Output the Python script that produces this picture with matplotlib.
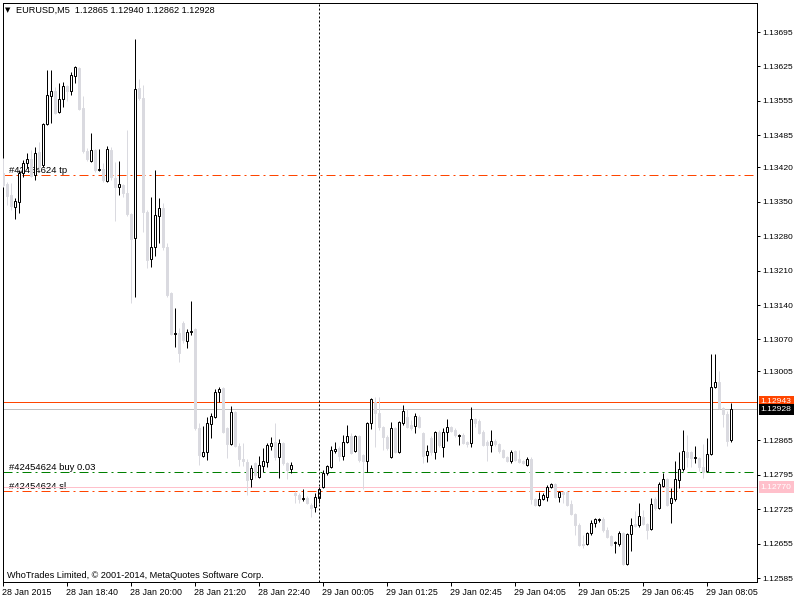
import matplotlib
matplotlib.use("Agg")
import matplotlib.pyplot as plt
import matplotlib.transforms as mtransforms

plt.rcParams['font.family'] = ['Liberation Sans', 'DejaVu Sans']
plt.rcParams['lines.scale_dashes'] = False

# EURUSD M5 candles
opens = [1.13408, 1.13386, 1.13364, 1.13339, 1.13349, 1.13408, 1.13429, 1.13437, 1.13404, 1.13451,
         1.13425, 1.13508, 1.13565, 1.13575, 1.13532, 1.13559, 1.13585, 1.13575, 1.13605, 1.13622,
         1.13540, 1.13453, 1.13433, 1.13455, 1.13414, 1.13416, 1.13392, 1.13455, 1.13398, 1.13380,
         1.13384, 1.13368, 1.13325, 1.13276, 1.13581, 1.13561, 1.13329, 1.13233, 1.13258, 1.13321,
         1.13337, 1.13258, 1.13164, 1.13081, 1.13083, 1.13103, 1.13067, 1.13085, 1.13091, 1.12890,
         1.12833, 1.12841, 1.12898, 1.12912, 1.12963, 1.12971, 1.12890, 1.12857, 1.12922, 1.12853,
         1.12827, 1.12821, 1.12786, 1.12819, 1.12790, 1.12813, 1.12821, 1.12853, 1.12861, 1.12831,
         1.12859, 1.12819, 1.12807, 1.12758, 1.12754, 1.12746, 1.12748, 1.12733, 1.12729, 1.12748,
         1.12770, 1.12798, 1.12811, 1.12843, 1.12849, 1.12833, 1.12861, 1.12874, 1.12843, 1.12874,
         1.12835, 1.12823, 1.12900, 1.12943, 1.12920, 1.12892, 1.12872, 1.12831, 1.12890, 1.12841,
         1.12900, 1.12912, 1.12896, 1.12894, 1.12912, 1.12880, 1.12835, 1.12870, 1.12841, 1.12882,
         1.12851, 1.12882, 1.12892, 1.12886, 1.12874, 1.12876, 1.12861, 1.12859, 1.12908, 1.12904,
         1.12882, 1.12861, 1.12855, 1.12863, 1.12857, 1.12845, 1.12831, 1.12823, 1.12843, 1.12827,
         1.12823, 1.12815, 1.12827, 1.12746, 1.12733, 1.12746, 1.12750, 1.12770, 1.12776, 1.12750,
         1.12760, 1.12760, 1.12735, 1.12715, 1.12693, 1.12654, 1.12654, 1.12676, 1.12697, 1.12703,
         1.12705, 1.12683, 1.12670, 1.12656, 1.12654, 1.12676, 1.12613, 1.12674, 1.12695, 1.12693,
         1.12709, 1.12695, 1.12685, 1.12746, 1.12727, 1.12772, 1.12786, 1.12737, 1.12746, 1.12784,
         1.12807, 1.12841, 1.12841, 1.12829, 1.12829, 1.12811, 1.12802, 1.12837, 1.12973, 1.12983,
         1.12931, 1.12918, 1.12865]
highs = [1.13439, 1.13390, 1.13388, 1.13357, 1.13414, 1.13435, 1.13449, 1.13455, 1.13461, 1.13471,
         1.13510, 1.13618, 1.13618, 1.13583, 1.13591, 1.13593, 1.13587, 1.13614, 1.13626, 1.13624,
         1.13565, 1.13459, 1.13490, 1.13457, 1.13457, 1.13429, 1.13463, 1.13461, 1.13431, 1.13433,
         1.13386, 1.13496, 1.13327, 1.13681, 1.13599, 1.13587, 1.13333, 1.13360, 1.13414, 1.13357,
         1.13347, 1.13266, 1.13166, 1.13134, 1.13093, 1.13107, 1.13091, 1.13148, 1.13093, 1.12900,
         1.12894, 1.12912, 1.12920, 1.12969, 1.12973, 1.12973, 1.12892, 1.12935, 1.12924, 1.12859,
         1.12859, 1.12827, 1.12815, 1.12821, 1.12833, 1.12849, 1.12859, 1.12872, 1.12900, 1.12868,
         1.12861, 1.12821, 1.12821, 1.12762, 1.12758, 1.12766, 1.12752, 1.12737, 1.12758, 1.12770,
         1.12805, 1.12815, 1.12853, 1.12861, 1.12853, 1.12876, 1.12896, 1.12880, 1.12876, 1.12876,
         1.12837, 1.12902, 1.12951, 1.12953, 1.12953, 1.12894, 1.12876, 1.12902, 1.12892, 1.12904,
         1.12937, 1.12928, 1.12906, 1.12920, 1.12916, 1.12882, 1.12855, 1.12874, 1.12884, 1.12886,
         1.12890, 1.12908, 1.12894, 1.12890, 1.12878, 1.12880, 1.12863, 1.12933, 1.12910, 1.12908,
         1.12886, 1.12865, 1.12886, 1.12868, 1.12859, 1.12847, 1.12833, 1.12845, 1.12845, 1.12845,
         1.12825, 1.12831, 1.12831, 1.12748, 1.12760, 1.12758, 1.12774, 1.12778, 1.12778, 1.12762,
         1.12762, 1.12762, 1.12744, 1.12717, 1.12697, 1.12672, 1.12678, 1.12703, 1.12707, 1.12707,
         1.12709, 1.12689, 1.12672, 1.12660, 1.12680, 1.12678, 1.12676, 1.12707, 1.12721, 1.12737,
         1.12723, 1.12697, 1.12748, 1.12750, 1.12780, 1.12798, 1.12788, 1.12768, 1.12823, 1.12841,
         1.12886, 1.12876, 1.12843, 1.12853, 1.12831, 1.12857, 1.12870, 1.13040, 1.13040, 1.13006,
         1.12933, 1.12924, 1.12940]
lows = [1.13380, 1.13343, 1.13333, 1.13315, 1.13327, 1.13400, 1.13418, 1.13400, 1.13394, 1.13414,
        1.13420, 1.13506, 1.13510, 1.13528, 1.13530, 1.13542, 1.13555, 1.13567, 1.13591, 1.13536,
        1.13449, 1.13433, 1.13431, 1.13410, 1.13412, 1.13390, 1.13390, 1.13394, 1.13311, 1.13364,
        1.13360, 1.13321, 1.13144, 1.13156, 1.13557, 1.13288, 1.13215, 1.13217, 1.13240, 1.13266,
        1.13252, 1.13156, 1.13079, 1.13055, 1.13024, 1.13063, 1.13053, 1.13079, 1.12886, 1.12815,
        1.12831, 1.12825, 1.12870, 1.12910, 1.12943, 1.12880, 1.12829, 1.12855, 1.12851, 1.12813,
        1.12813, 1.12754, 1.12770, 1.12788, 1.12788, 1.12800, 1.12811, 1.12845, 1.12825, 1.12788,
        1.12815, 1.12786, 1.12798, 1.12737, 1.12737, 1.12741, 1.12735, 1.12709, 1.12719, 1.12737,
        1.12768, 1.12794, 1.12809, 1.12839, 1.12823, 1.12825, 1.12859, 1.12837, 1.12841, 1.12821,
        1.12766, 1.12800, 1.12888, 1.12851, 1.12886, 1.12845, 1.12845, 1.12829, 1.12839, 1.12839,
        1.12896, 1.12890, 1.12886, 1.12880, 1.12890, 1.12819, 1.12821, 1.12835, 1.12827, 1.12851,
        1.12831, 1.12863, 1.12882, 1.12872, 1.12855, 1.12857, 1.12851, 1.12851, 1.12892, 1.12878,
        1.12853, 1.12823, 1.12841, 1.12853, 1.12839, 1.12829, 1.12821, 1.12819, 1.12823, 1.12819,
        1.12817, 1.12813, 1.12735, 1.12731, 1.12731, 1.12744, 1.12741, 1.12768, 1.12748, 1.12739,
        1.12737, 1.12731, 1.12713, 1.12672, 1.12650, 1.12646, 1.12652, 1.12672, 1.12689, 1.12699,
        1.12678, 1.12666, 1.12650, 1.12636, 1.12650, 1.12611, 1.12611, 1.12640, 1.12689, 1.12689,
        1.12693, 1.12664, 1.12683, 1.12723, 1.12725, 1.12770, 1.12731, 1.12697, 1.12741, 1.12768,
        1.12802, 1.12811, 1.12811, 1.12819, 1.12802, 1.12788, 1.12800, 1.12835, 1.12971, 1.12929,
        1.12892, 1.12853, 1.12862]
closes = [1.13384, 1.13362, 1.13341, 1.13351, 1.13408, 1.13429, 1.13437, 1.13402, 1.13449, 1.13420,
          1.13508, 1.13567, 1.13575, 1.13530, 1.13559, 1.13585, 1.13575, 1.13608, 1.13624, 1.13538,
          1.13453, 1.13437, 1.13455, 1.13414, 1.13416, 1.13394, 1.13457, 1.13400, 1.13380, 1.13386,
          1.13368, 1.13325, 1.13274, 1.13579, 1.13561, 1.13329, 1.13231, 1.13258, 1.13323, 1.13337,
          1.13258, 1.13160, 1.13081, 1.13083, 1.13042, 1.13069, 1.13085, 1.13087, 1.12890, 1.12835,
          1.12841, 1.12900, 1.12914, 1.12963, 1.12969, 1.12882, 1.12857, 1.12922, 1.12853, 1.12827,
          1.12823, 1.12784, 1.12809, 1.12794, 1.12815, 1.12823, 1.12855, 1.12859, 1.12831, 1.12859,
          1.12819, 1.12805, 1.12815, 1.12754, 1.12746, 1.12748, 1.12737, 1.12727, 1.12750, 1.12766,
          1.12798, 1.12813, 1.12845, 1.12847, 1.12833, 1.12861, 1.12874, 1.12839, 1.12874, 1.12825,
          1.12823, 1.12900, 1.12949, 1.12920, 1.12892, 1.12872, 1.12849, 1.12890, 1.12841, 1.12902,
          1.12924, 1.12892, 1.12890, 1.12914, 1.12892, 1.12833, 1.12843, 1.12841, 1.12882, 1.12855,
          1.12882, 1.12892, 1.12884, 1.12876, 1.12876, 1.12859, 1.12857, 1.12908, 1.12900, 1.12880,
          1.12855, 1.12855, 1.12863, 1.12857, 1.12843, 1.12831, 1.12823, 1.12841, 1.12825, 1.12821,
          1.12819, 1.12827, 1.12746, 1.12733, 1.12746, 1.12754, 1.12770, 1.12776, 1.12750, 1.12760,
          1.12756, 1.12733, 1.12715, 1.12693, 1.12652, 1.12652, 1.12676, 1.12697, 1.12705, 1.12705,
          1.12683, 1.12668, 1.12652, 1.12658, 1.12676, 1.12613, 1.12674, 1.12693, 1.12691, 1.12711,
          1.12695, 1.12683, 1.12735, 1.12727, 1.12776, 1.12786, 1.12733, 1.12748, 1.12786, 1.12807,
          1.12843, 1.12831, 1.12829, 1.12831, 1.12811, 1.12800, 1.12837, 1.12973, 1.12983, 1.12931,
          1.12918, 1.12863, 1.12928]

time_labels = ["28 Jan 2015", "28 Jan 18:40", "28 Jan 20:00", "28 Jan 21:20", "28 Jan 22:40",
               "29 Jan 00:05", "29 Jan 01:25", "29 Jan 02:45", "29 Jan 04:05", "29 Jan 05:25",
               "29 Jan 06:45", "29 Jan 08:05"]
time_label_bars = [0, 16, 32, 48, 64, 80, 96, 112, 128, 144, 160, 176]
price_ticks = [1.13695, 1.13625, 1.13555, 1.13485, 1.13420, 1.13350, 1.13280, 1.13210,
               1.13140, 1.13070, 1.13005, 1.12865, 1.12795, 1.12725, 1.12655, 1.12585]

order_id = "#42454624"
tp_price = 1.13404
entry_price = 1.12800
sl_price = 1.12762
alert_price = 1.12770
ask_price = 1.12943
bid_price = 1.12928
separator_bar = 79

grey = '#DADAE0'
px = 0.72  # one pixel in points at 100 dpi

fig = plt.figure(figsize=(8, 6), dpi=100)
ax = fig.add_axes([2.5 / 800, 18.5 / 600, 754.5 / 800, 579 / 600])
ax.set_xlim(-0.125, 188.5)
ax.set_ylim(1.12578, 1.13755)

# Candles: wick first, then body on top
for i in range(len(opens)):
    o, h, l, c = opens[i], highs[i], lows[i], closes[i]
    bull = c >= o
    col = 'black' if bull else grey
    ax.vlines(i, l, h, color=col, linewidth=px, zorder=3)
    lo, hi = min(o, c), max(o, c)
    ax.bar(i, hi - lo, bottom=lo, width=0.5, facecolor='white' if bull else grey,
           edgecolor=col, linewidth=px, zorder=4)

# Order lines
dashdot = (0, (9 * px, 4 * px, 2 * px, 4 * px))
ax.axhline(tp_price, color='#FF4500', linewidth=px, linestyle=dashdot, zorder=2)
ax.axhline(entry_price, color='#008000', linewidth=px, linestyle=dashdot, zorder=2)
ax.axhline(sl_price, color='#FF4500', linewidth=px, linestyle=dashdot, zorder=2)
ax.axhline(alert_price, color='#FFC0CB', linewidth=px, zorder=2)
ax.axhline(ask_price, color='#FF4500', linewidth=px, zorder=2)
ax.axhline(bid_price, color='#C0C0C0', linewidth=px, zorder=2)
ax.axvline(separator_bar, color='black', linewidth=px, linestyle=(0, (2 * px, 2 * px)), zorder=5)

ax.text(1.5, tp_price, order_id + " tp", fontsize=6.8, va='bottom', ha='left', zorder=1)
ax.text(1.5, entry_price, order_id + " buy 0.03", fontsize=6.8, va='bottom', ha='left', zorder=1)
ax.text(1.5, sl_price, order_id + " sl", fontsize=6.8, va='bottom', ha='left', zorder=1)

# Axes look
for s in ax.spines.values():
    s.set_linewidth(px)
ax.yaxis.tick_right()
ax.set_yticks(price_ticks)
ax.set_yticklabels([f"{p:.5f}" for p in price_ticks])
ax.tick_params(axis='y', direction='out', length=3 * px, width=px, pad=2, labelsize=6.1)
ax.set_xticks(time_label_bars)
ax.set_xticklabels(time_labels)
ax.tick_params(axis='x', direction='out', length=4 * px, width=px, pad=2, labelsize=6.4)
for lab in ax.get_xticklabels():
    lab.set_horizontalalignment('left')
offset = mtransforms.ScaledTranslation(-1 / 100, 0, fig.dpi_scale_trans)
for lab in ax.get_xticklabels():
    lab.set_transform(lab.get_transform() + offset)

# Price labels on the right scale
trans = mtransforms.blended_transform_factory(ax.transAxes, ax.transData)
for price, fc in [(ask_price, '#FF4500'), (bid_price, 'black'), (alert_price, '#FFC0CB')]:
    ax.text(1.005, price, f"{price:.5f}", transform=trans, fontsize=6.1, color='white',
            va='center', ha='left', clip_on=False, zorder=6,
            bbox=dict(boxstyle='square,pad=0.25', fc=fc, ec='none'))

fig.text(5 / 800, 1 - 10 / 600, "\u25BC", fontsize=5, va='center', ha='left',
         family=['DejaVu Sans'])
fig.text(16 / 800, 1 - 10 / 600, "EURUSD,M5  1.12865 1.12940 1.12862 1.12928",
         fontsize=6.6, va='center', ha='left')
fig.text(7 / 800, 1 - 575 / 600, "WhoTrades Limited, \u00A9 2001-2014, MetaQuotes Software Corp.",
         fontsize=6.6, va='center', ha='left')

fig.savefig("out.png", dpi=100)
